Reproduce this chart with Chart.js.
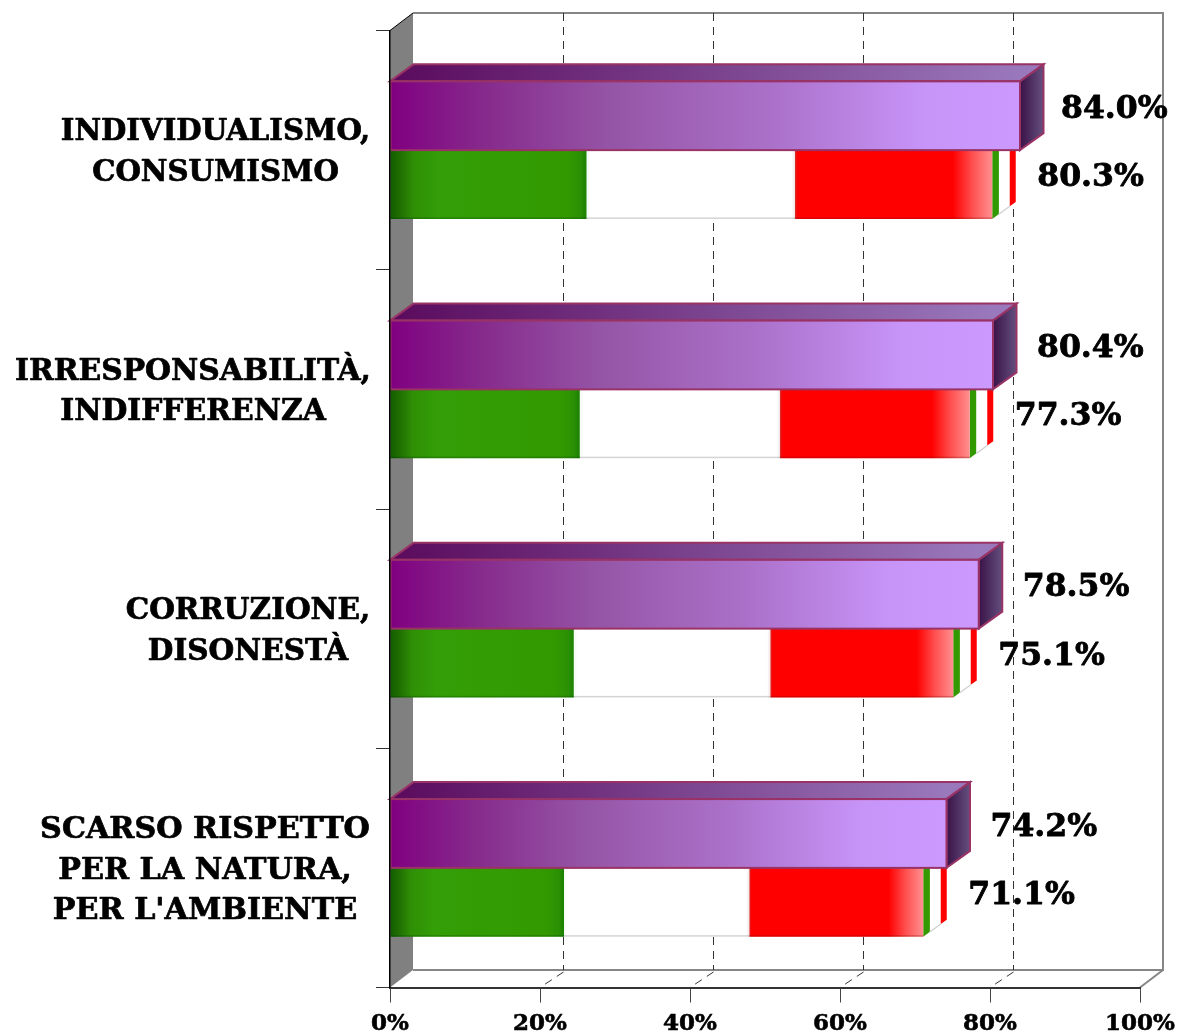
<!DOCTYPE html>
<html><head><meta charset="utf-8">
<style>html,body{margin:0;padding:0;background:#fff}canvas{display:block}</style>
<script src="https://cdn.jsdelivr.net/npm/chart.js@4"></script>
</head><body><canvas id="c" width="1178" height="1034"></canvas>
<script>
const categories = [['INDIVIDUALISMO,','CONSUMISMO'],['IRRESPONSABILITÀ,','INDIFFERENZA'],['CORRUZIONE,','DISONESTÀ'],['SCARSO RISPETTO','PER LA NATURA,',"PER L'AMBIENTE"]];
const purpleValues = [84.0,80.4,78.5,74.2];
const greenValues = [26.2,25.3,24.5,23.2];
const whiteValues = [27.8,26.7,26.2,24.7];
const redValues = [26.3,25.3,24.4,23.2];
const xTicks = [0,20,40,60,80,100];

const FONT = '"DejaVu Serif", serif';
const DX = 23.5, DY = -17;
const purpleLabelGap = [41,44,44,44];
const categoryFontSize = [29.2,29.8,29.5,30.2];
const categoryCentre = [215.5,193,248,205];

function grad(ctx, x0, x1, stops){
  const g = ctx.createLinearGradient(x0,0,x1,0);
  stops.forEach(s=>g.addColorStop(s[0],s[1]));
  return g;
}
const purpleStops = [[0,'#800080'],[0.15,'#862a8c'],[0.35,'#9555a6'],[0.6,'#aa70c8'],[0.85,'#c794f8'],[1,'#cc99ff']];
const topStops = [[0,'#5a0a5c'],[1,'#9a78bc']];
const sideStops = [[0,'#3a1248'],[1,'#64507e']];
const greenStops = [[0,'#125c00'],[0.05,'#1f6e02'],[0.12,'#2f8f05'],[0.25,'#339e08'],[0.9,'#339900'],[0.97,'#2b9004'],[1,'#1a8000']];
const whiteStops = [[0,'#f4fbf2'],[0.02,'#ffffff'],[0.985,'#ffffff'],[1,'#f3e4e4']];
const redStops = [[0,'#d43030'],[0.012,'#ff0000'],[0.8,'#ff0000'],[0.9,'#ff5050'],[1,'#ff9090']];

function scriptGrad(stops, startArr, valArr){
  return c=>{
    const x=c.chart.scales.x; if(!x||c.dataIndex===undefined) return stops[0][1];
    const i=c.dataIndex, s=startArr?startArr[i]:0;
    const p0=x.getPixelForValue(s), p1=x.getPixelForValue(s+valArr[i]);
    if(!isFinite(p0)||!isFinite(p1)) return stops[0][1];
    return grad(c.chart.ctx,p0,p1,stops);
  };
}

const flagTotals = greenValues.map((v,i)=>v+whiteValues[i]+redValues[i]);

function boldText(ctx,t,x,y,w){
  ctx.lineWidth=w;ctx.lineJoin='round';ctx.strokeStyle='#000';
  ctx.strokeText(t,x,y);ctx.fillText(t,x,y);
}

const wall3d = {
  id:'wall3d',
  beforeDatasetsDraw(chart){
    const ctx=chart.ctx, x=chart.scales.x, a=chart.chartArea;
    const wx0=Math.floor(a.left+DX), wx1=Math.floor(a.right+DX), wy0=Math.floor(a.top+DY), wy1=Math.floor(a.bottom+DY);
    ctx.save();
    // side wall
    ctx.fillStyle='#808080';
    ctx.beginPath();ctx.moveTo(a.left,a.top);ctx.lineTo(wx0,wy0);ctx.lineTo(wx0,wy1);ctx.lineTo(a.left,a.bottom);ctx.closePath();ctx.fill();
    // back wall and floor outline
    ctx.strokeStyle='#868686';ctx.lineWidth=2;
    ctx.beginPath();ctx.moveTo(wx0,wy0);ctx.lineTo(wx1,wy0);ctx.lineTo(wx1,wy1);ctx.lineTo(wx0,wy1);ctx.stroke();
    ctx.beginPath();ctx.moveTo(a.right,a.bottom);ctx.lineTo(wx1,wy1);ctx.stroke();
    ctx.lineWidth=1;
    ctx.strokeStyle='#000';
    ctx.beginPath();ctx.moveTo(a.left,a.top);ctx.lineTo(wx0,wy0);ctx.stroke();
    // grid lines on back wall and floor
    ctx.strokeStyle='#333';ctx.setLineDash([8,6]);
    xTicks.slice(1,-1).forEach(v=>{
      const p=x.getPixelForValue(v), q=Math.floor(p+DX)+0.5;
      ctx.beginPath();ctx.moveTo(q,wy0);ctx.lineTo(q,wy1);ctx.stroke();
      ctx.beginPath();ctx.moveTo(q,wy1+2);ctx.lineTo(p,a.bottom);ctx.stroke();
    });
    ctx.setLineDash([]);
    // 3D faces of the bars
    const purple=chart.getDatasetMeta(0).data, red=chart.getDatasetMeta(3).data;
    red.forEach((b,i)=>{
      const h=b.height/2, y0=b.y-h, y1=b.y+h, e=b.x;
      const seg=[[0,0.285,'#339900'],[0.285,0.745,'#ffffff'],[0.745,1,'#ff0000']];
      seg.forEach(s=>{
        ctx.fillStyle=s[2];
        ctx.beginPath();
        ctx.moveTo(e+DX*s[0],y0+DY*s[0]);ctx.lineTo(e+DX*s[1],y0+DY*s[1]);
        ctx.lineTo(e+DX*s[1],y1+DY*s[1]);ctx.lineTo(e+DX*s[0],y1+DY*s[0]);
        ctx.closePath();ctx.fill();
      });
      ctx.strokeStyle='#d4d4d4';ctx.lineWidth=1.5;
      ctx.beginPath();ctx.moveTo(e+DX*0.285,y1+DY*0.285);ctx.lineTo(e+DX*0.745,y1+DY*0.745);ctx.stroke();
    });
    purple.forEach((b,i)=>{
      const h=b.height/2, y0=b.y-h, y1=b.y+h, l=x.getPixelForValue(0), e=b.x;
      ctx.strokeStyle='#993366';ctx.lineWidth=2;
      ctx.fillStyle=grad(ctx,l,e,topStops);
      ctx.beginPath();ctx.moveTo(l,y0);ctx.lineTo(l+DX,y0+DY);ctx.lineTo(e+DX,y0+DY);ctx.lineTo(e,y0);ctx.closePath();ctx.fill();ctx.stroke();
      ctx.fillStyle=grad(ctx,e,e+DX,sideStops);
      ctx.beginPath();ctx.moveTo(e,y0);ctx.lineTo(e+DX,y0+DY);ctx.lineTo(e+DX,y1+DY);ctx.lineTo(e,y1);ctx.closePath();ctx.fill();ctx.stroke();
    });
    ctx.restore();
  },
  afterDatasetsDraw(chart){
    const ctx=chart.ctx, y=chart.scales.y;
    ctx.save();
    // soft lower edge of the flag bars
    [1,2,3].forEach(k=>chart.getDatasetMeta(k).data.forEach(b=>{
      const bottom=b.y+b.height/2;
      ctx.fillStyle=k===2?'rgba(0,0,0,0.17)':'rgba(0,60,0,0.28)';
      if(k===3)ctx.fillStyle='rgba(120,0,0,0.28)';
      ctx.fillRect(b.base,bottom-1.5,b.x-b.base,1.5);
    }));
    // outline of the front of the purple bars, centred on its edge
    ctx.strokeStyle='#993366';ctx.lineWidth=2;
    chart.getDatasetMeta(0).data.forEach(b=>{
      ctx.strokeRect(b.base,b.y-b.height/2,b.x-b.base,b.height);
    });
    // value labels
    ctx.fillStyle='#000';ctx.textBaseline='middle';ctx.textAlign='left';
    ctx.font='bold 31.5px '+FONT;
    chart.getDatasetMeta(0).data.forEach((b,i)=>{
      boldText(ctx,purpleValues[i].toFixed(1)+'%',b.x+purpleLabelGap[i],b.y-6,0.8);
    });
    chart.getDatasetMeta(3).data.forEach((b,i)=>{
      boldText(ctx,flagTotals[i].toFixed(1)+'%',b.x+45,b.y-6.5,0.8);
    });
    // category labels, centred line by line
    ctx.textAlign='center';
    categories.forEach((lines,i)=>{
      ctx.font='bold '+categoryFontSize[i]+'px '+FONT;
      const c=y.getPixelForValue(i);
      lines.forEach((t,j)=>boldText(ctx,t,categoryCentre[i],c+3+(j-(lines.length-1)/2)*40.5,0.7));
    });
    ctx.restore();
  }
};

new Chart(document.getElementById('c'),{
  type:'bar',
  data:{labels:categories,datasets:[
    {label:'Totale',stack:'a',data:purpleValues,backgroundColor:scriptGrad(purpleStops,null,purpleValues),borderWidth:0},
    {label:'Verde',stack:'b',data:greenValues,backgroundColor:scriptGrad(greenStops,null,greenValues),borderWidth:0},
    {label:'Bianco',stack:'b',data:whiteValues,backgroundColor:scriptGrad(whiteStops,greenValues,whiteValues),borderWidth:0},
    {label:'Rosso',stack:'b',data:redValues,backgroundColor:scriptGrad(redStops,greenValues.map((v,i)=>v+whiteValues[i]),redValues),borderWidth:0}
  ]},
  plugins:[wall3d],
  options:{
    indexAxis:'y',responsive:false,animation:false,
    barPercentage:1,categoryPercentage:0.575,
    layout:{padding:{top:30.5,right:0,left:0,bottom:0}},
    plugins:{legend:{display:false},tooltip:{enabled:false},title:{display:false}},
    scales:{
      x:{type:'linear',min:0,max:100,stacked:true,afterFit(s){s.height=46.5;s.paddingLeft=0;s.paddingRight=38;},
        afterBuildTicks(s){s.ticks=xTicks.map(v=>({value:v}));},
        border:{z:1,display:true,color:'#333',width:2},
        grid:{z:1,drawOnChartArea:false,drawTicks:true,tickLength:15,color:'#444',lineWidth:1},
        ticks:{padding:8,maxRotation:0,autoSkip:false,color:'#000',textStrokeColor:'#000',textStrokeWidth:0.6,font:{family:FONT,weight:'bold',size:23},callback:v=>v+'%'}},
      y:{type:'category',afterFit(s){s.width=390;},
        border:{z:1,display:true,color:'#000',width:1.5},
        grid:{z:1,drawOnChartArea:false,drawTicks:true,tickLength:14,color:'#333',lineWidth:1},
        ticks:{display:false}}
    }
  }
});
</script></body></html>
